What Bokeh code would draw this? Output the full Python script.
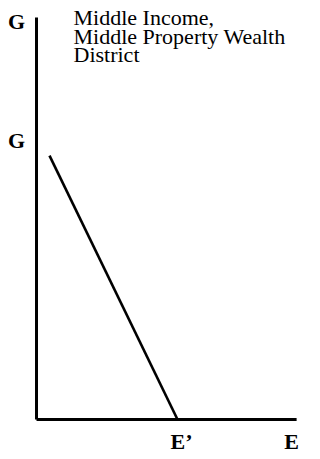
from bokeh.plotting import figure
from bokeh.models import Range1d, Label
from bokeh.embed import file_html
from bokeh.resources import INLINE
from bokeh.core.properties import value

# Quantities on the expenditure (E) and grant (G) axes
e_full = 10.0        # E, full expenditure level
e_prime = 5.53       # E', expenditure where the grant runs out
g_full = 10.0        # G at the top of the vertical axis
g_intercept = 6.63   # grant received at the lowest expenditure shown
e_start = 0.51       # expenditure where the schedule begins

x_tick_values = [e_prime, e_full]
x_tick_labels = ["E\u2019", "E"]
y_tick_values = [g_full, g_intercept]
y_tick_labels = ["G", "G"]

# grant schedule: falls from the intercept to zero at E', then stays at zero
sched_x = [e_start, e_prime]
sched_y = [g_intercept, 0.0]

title_lines = ["Middle Income,", "Middle Property Wealth", "District"]

p = figure(width=320, height=459, output_backend="svg", toolbar_location=None,
           x_axis_type=None, y_axis_type=None,
           x_range=Range1d(-1.412, 11.137), y_range=Range1d(-1.005, 10.528),
           min_border=0, outline_line_color=None)
p.grid.visible = False
p.background_fill_color = "white"
p.border_fill_color = "white"

# axes drawn as heavy strokes
p.line(x=[0, 0], y=[0, 10.1], line_color="black", line_width=3)
p.line(x=[0, 10.2], y=[0, 0], line_color="black", line_width=3)

# grant schedule
p.line(x=sched_x, y=sched_y, line_color="black", line_width=2.6)

serif = value("Liberation Serif")

p.text(x=[x_tick_values[0]], y=[0], text=[x_tick_labels[0]], x_offset=4, y_offset=22,
       text_font=serif, text_font_style="bold", text_font_size="22px",
       text_align="center", text_baseline="middle", text_color="black")
p.text(x=[x_tick_values[1]], y=[0], text=[x_tick_labels[1]], y_offset=22,
       text_font=serif, text_font_style="bold", text_font_size="22px",
       text_align="center", text_baseline="middle", text_color="black")
p.text(x=[0, 0], y=y_tick_values, text=y_tick_labels, x_offset=-20, y_offset=[0, -15],
       text_font=serif, text_font_style="bold", text_font_size="22px",
       text_align="center", text_baseline="middle", text_color="black")

for text, base in zip(title_lines, [442, 423, 405]):
    p.add_layout(Label(x=73, y=base, x_units="screen", y_units="screen", text=text,
                       text_font="Liberation Serif", text_font_size="22px",
                       text_baseline="alphabetic", text_color="black"))

open("out.html", "w").write(file_html(p, INLINE))
